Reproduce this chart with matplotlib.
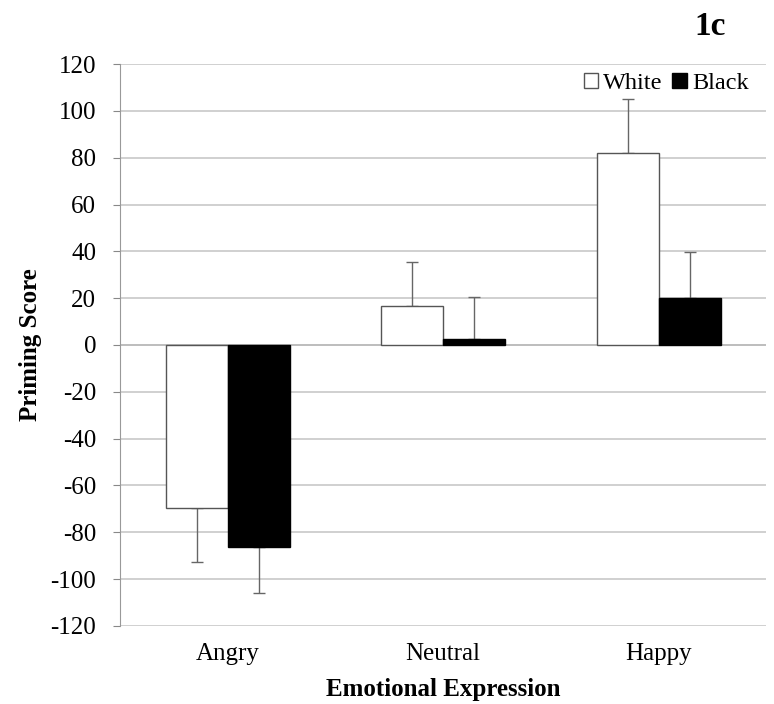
import matplotlib
matplotlib.use("Agg")
import matplotlib.pyplot as plt
import numpy as np

plt.rcParams['font.family'] = ['Liberation Serif', 'DejaVu Serif']
plt.rcParams['axes.unicode_minus'] = False

# priming scores by emotional expression
categories = ['Angry', 'Neutral', 'Happy']
white = [-69.8, 16.6, 82.0]
black = [-86.2, 2.5, 20.0]
white_err = [22.8, 18.8, 23.0]
black_err = [19.8, 18.0, 19.7]
yticks = list(range(-120, 121, 20))

fig = plt.figure(figsize=(7.74, 7.04), dpi=100)
ax = fig.add_axes([0.155, 0.111, 0.835, 0.798])

x = np.arange(len(categories))
w = 0.288

def one_sided(vals, errs):
    lo = [e if v < 0 else 0 for v, e in zip(vals, errs)]
    hi = [e if v >= 0 else 0 for v, e in zip(vals, errs)]
    return [lo, hi]

ax.bar(x - w / 2, white, w, color='white', edgecolor='#555555', linewidth=1.0,
       label='White', zorder=3)
ax.bar(x + w / 2, black, w, color='black', edgecolor='black', linewidth=1.0,
       label='Black', zorder=3)
ax.errorbar(x - w / 2, white, yerr=one_sided(white, white_err), fmt='none',
            ecolor='#666666', elinewidth=1.0, capsize=4, capthick=1.0, zorder=2)
ax.errorbar(x + w / 2, black, yerr=one_sided(black, black_err), fmt='none',
            ecolor='#666666', elinewidth=1.0, capsize=4, capthick=1.0, zorder=2)

ax.set_xlim(-0.5, 2.5)
ax.set_ylim(-120, 120)
ax.set_yticks(yticks)
ax.set_xticks(x)
ax.set_xticklabels(categories, fontsize=18)
ax.tick_params(axis='y', labelsize=18, length=5, color='#888888', pad=12)
ax.tick_params(axis='x', length=0, pad=12)
ax.yaxis.grid(True, color='#c8c8c8', linewidth=1.2, zorder=0)
ax.set_axisbelow(True)
for s in ['top', 'right', 'bottom']:
    ax.spines[s].set_visible(False)
ax.spines['left'].set_color('#999999')
ax.axhline(0, color='#bbbbbb', linewidth=1.2, zorder=1)

ax.set_ylabel('Priming Score', fontsize=18, fontweight='bold', labelpad=6)
ax.set_xlabel('Emotional Expression', fontsize=18, fontweight='bold', labelpad=10)

ax.legend(loc='upper right', frameon=False, fontsize=17.5, ncol=2,
          handlelength=0.6, handleheight=0.6, handletextpad=0.2,
          columnspacing=0.4, borderaxespad=0.2, bbox_to_anchor=(0.995, 1.01))

fig.text(0.917, 0.963, '1c', fontsize=24, fontweight='bold', ha='center', va='center')

fig.savefig('out.png', dpi=100, facecolor='white')
